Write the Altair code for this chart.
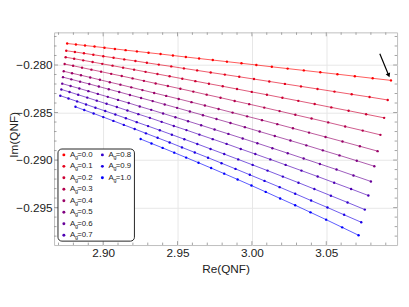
import altair as alt
import pandas as pd

# ---------------- data ----------------
A_values = [0.0, 0.1, 0.2, 0.3, 0.4, 0.5, 0.6, 0.7, 0.8, 0.9, 1.0]
colors = ["#ff0000", "#e6001a", "#cc0033", "#b3004d", "#990066", "#800080",
          "#660099", "#4d00b3", "#3300cc", "#1a00e6", "#0000ff"]

re_a00 = [2.8758, 2.8817, 2.8878, 2.8942, 2.9009, 2.9079, 2.9151, 2.9227, 2.9305, 2.9386, 2.9469, 2.9556, 2.9645,
          2.9737, 2.9832, 2.9930, 3.0030, 3.0134, 3.0240, 3.0349, 3.0460, 3.0575, 3.0692, 3.0812, 3.0935]
im_a00 = [-0.27774, -0.27784, -0.27795, -0.27806, -0.27818, -0.27831, -0.27844, -0.27857, -0.27871, -0.27885,
          -0.27900, -0.27916, -0.27932, -0.27948, -0.27965, -0.27982, -0.28000, -0.28019, -0.28038, -0.28057,
          -0.28077, -0.28097, -0.28118, -0.28140, -0.28162]

re_a01 = [2.8752, 2.8810, 2.8871, 2.8934, 2.9001, 2.9070, 2.9142, 2.9217, 2.9294, 2.9374, 2.9458, 2.9543, 2.9632,
          2.9723, 2.9818, 2.9915, 3.0014, 3.0117, 3.0222, 3.0330, 3.0441, 3.0555, 3.0671, 3.0791, 3.0913]
im_a01 = [-0.27850, -0.27863, -0.27877, -0.27892, -0.27908, -0.27924, -0.27941, -0.27958, -0.27977, -0.27996,
          -0.28015, -0.28036, -0.28057, -0.28079, -0.28101, -0.28124, -0.28148, -0.28173, -0.28199, -0.28225,
          -0.28252, -0.28280, -0.28308, -0.28337, -0.28368]

re_a02 = [2.8748, 2.8805, 2.8866, 2.8929, 2.8994, 2.9063, 2.9134, 2.9208, 2.9285, 2.9365, 2.9447, 2.9532, 2.9620,
          2.9711, 2.9804, 2.9900, 2.9999, 3.0101, 3.0205, 3.0312, 3.0422, 3.0534, 3.0650, 3.0768, 3.0889]
im_a02 = [-0.27918, -0.27934, -0.27951, -0.27969, -0.27988, -0.28007, -0.28028, -0.28049, -0.28072, -0.28095,
          -0.28119, -0.28144, -0.28170, -0.28197, -0.28224, -0.28253, -0.28283, -0.28313, -0.28345, -0.28377,
          -0.28411, -0.28446, -0.28481, -0.28518, -0.28556]

re_a03 = [2.8741, 2.8798, 2.8858, 2.8921, 2.8986, 2.9054, 2.9125, 2.9198, 2.9274, 2.9353, 2.9435, 2.9519, 2.9606,
          2.9696, 2.9789, 2.9884, 2.9982, 3.0083, 3.0186, 3.0292, 3.0401, 3.0513, 3.0627, 3.0745, 3.0864]
im_a03 = [-0.27990, -0.28008, -0.28028, -0.28049, -0.28070, -0.28093, -0.28116, -0.28141, -0.28167, -0.28194,
          -0.28221, -0.28250, -0.28280, -0.28312, -0.28344, -0.28378, -0.28412, -0.28448, -0.28485, -0.28524,
          -0.28563, -0.28604, -0.28647, -0.28690, -0.28735]

re_a04 = [2.8735, 2.8791, 2.8851, 2.8913, 2.8978, 2.9045, 2.9116, 2.9189, 2.9264, 2.9343, 2.9424, 2.9508, 2.9594,
          2.9684, 2.9776, 2.9870, 2.9968, 3.0068, 3.0171, 3.0276, 3.0384, 3.0495, 3.0609, 3.0726, 3.0845]
im_a04 = [-0.28066, -0.28087, -0.28108, -0.28131, -0.28156, -0.28181, -0.28207, -0.28235, -0.28264, -0.28294,
          -0.28325, -0.28357, -0.28391, -0.28426, -0.28463, -0.28501, -0.28540, -0.28580, -0.28622, -0.28666,
          -0.28711, -0.28757, -0.28805, -0.28855, -0.28906]

re_a05 = [2.8730, 2.8786, 2.8845, 2.8907, 2.8971, 2.9038, 2.9108, 2.9180, 2.9255, 2.9333, 2.9414, 2.9497, 2.9583,
          2.9671, 2.9762, 2.9856, 2.9953, 3.0052, 3.0154, 3.0259, 3.0366, 3.0477, 3.0589, 3.0705, 3.0823]
im_a05 = [-0.28128, -0.28151, -0.28175, -0.28200, -0.28227, -0.28255, -0.28284, -0.28315, -0.28347, -0.28380,
          -0.28415, -0.28451, -0.28489, -0.28528, -0.28568, -0.28610, -0.28654, -0.28700, -0.28747, -0.28795,
          -0.28845, -0.28898, -0.28951, -0.29007, -0.29065]

re_a06 = [2.8725, 2.8781, 2.8840, 2.8901, 2.8964, 2.9031, 2.9100, 2.9172, 2.9246, 2.9323, 2.9403, 2.9486, 2.9571,
          2.9659, 2.9749, 2.9842, 2.9938, 3.0037, 3.0138, 3.0241, 3.0348, 3.0457, 3.0569, 3.0683, 3.0800]
im_a06 = [-0.28196, -0.28221, -0.28247, -0.28275, -0.28304, -0.28335, -0.28367, -0.28400, -0.28436, -0.28472,
          -0.28510, -0.28550, -0.28591, -0.28634, -0.28679, -0.28725, -0.28773, -0.28823, -0.28875, -0.28928,
          -0.28984, -0.29041, -0.29100, -0.29162, -0.29225]

re_a07 = [2.8719, 2.8774, 2.8832, 2.8893, 2.8957, 2.9023, 2.9092, 2.9163, 2.9237, 2.9314, 2.9393, 2.9475, 2.9560,
          2.9647, 2.9737, 2.9830, 2.9925, 3.0023, 3.0124, 3.0227, 3.0333, 3.0442, 3.0553, 3.0667, 3.0783]
im_a07 = [-0.28257, -0.28284, -0.28313, -0.28343, -0.28375, -0.28408, -0.28442, -0.28479, -0.28517, -0.28556,
          -0.28598, -0.28641, -0.28685, -0.28732, -0.28780, -0.28830, -0.28883, -0.28937, -0.28993, -0.29051,
          -0.29111, -0.29173, -0.29238, -0.29304, -0.29373]

re_a08 = [2.8712, 2.8767, 2.8825, 2.8885, 2.8948, 2.9014, 2.9082, 2.9153, 2.9226, 2.9302, 2.9381, 2.9462, 2.9546,
          2.9633, 2.9722, 2.9814, 2.9908, 3.0005, 3.0105, 3.0208, 3.0313, 3.0420, 3.0531, 3.0643, 3.0759]
im_a08 = [-0.28323, -0.28352, -0.28383, -0.28415, -0.28449, -0.28484, -0.28521, -0.28560, -0.28601, -0.28643,
          -0.28687, -0.28733, -0.28781, -0.28831, -0.28883, -0.28937, -0.28993, -0.29051, -0.29111, -0.29174,
          -0.29238, -0.29305, -0.29375, -0.29446, -0.29521]

re_a09 = [2.8814, 2.8873, 2.8936, 2.9001, 2.9069, 2.9139, 2.9212, 2.9288, 2.9366, 2.9447, 2.9530, 2.9616, 2.9705,
          2.9796, 2.9890, 2.9986, 3.0085, 3.0187, 3.0291, 3.0398, 3.0508, 3.0620, 3.0735]
im_a09 = [-0.28440, -0.28474, -0.28510, -0.28548, -0.28588, -0.28630, -0.28673, -0.28719, -0.28766, -0.28815,
          -0.28867, -0.28920, -0.28975, -0.29033, -0.29093, -0.29155, -0.29219, -0.29285, -0.29354, -0.29426,
          -0.29499, -0.29576, -0.29654]

re_a10 = [2.9252, 2.9325, 2.9400, 2.9478, 2.9558, 2.9641, 2.9726, 2.9814, 2.9904, 2.9997, 3.0093, 3.0190, 3.0291,
          3.0394, 3.0499, 3.0607, 3.0717]
im_a10 = [-0.28779, -0.28825, -0.28872, -0.28922, -0.28974, -0.29028, -0.29084, -0.29143, -0.29204, -0.29268,
          -0.29335, -0.29404, -0.29475, -0.29550, -0.29627, -0.29708, -0.29791]

re_series = [re_a00, re_a01, re_a02, re_a03, re_a04, re_a05, re_a06, re_a07, re_a08, re_a09, re_a10]
im_series = [im_a00, im_a01, im_a02, im_a03, im_a04, im_a05, im_a06, im_a07, im_a08, im_a09, im_a10]

x_major = [2.90, 2.95, 3.00, 3.05]
y_major = [-0.280, -0.285, -0.290, -0.295]
x_minor = [2.87, 2.88, 2.89, 2.91, 2.92, 2.93, 2.94, 2.96, 2.97, 2.98, 2.99,
           3.01, 3.02, 3.03, 3.04, 3.06, 3.07, 3.08, 3.09]
y_minor = [-0.277, -0.278, -0.279, -0.281, -0.282, -0.283, -0.284, -0.286, -0.287, -0.288, -0.289,
           -0.291, -0.292, -0.293, -0.294, -0.296, -0.297, -0.298]

# arrow annotation (points at the end of the A=0.0 curve)
arrow_re = [3.0860, 3.0918]
arrow_im = [-0.27881, -0.28102]

# ---------------- layout ----------------
X_DOM = [2.867, 3.0976]
Y_DOM = [-0.29894, -0.27657]
W, H = 350, 217
FONT = "Liberation Sans"
TXT = "#222222"

labels = [f"{a:.1f}" for a in A_values]

rows = []
for lab, re_vals, im_vals in zip(labels, re_series, im_series):
    for i, (xv, yv) in enumerate(zip(re_vals, im_vals)):
        rows.append({"A": lab, "idx": i, "re": xv, "im": yv})
df = pd.DataFrame(rows)

xscale = alt.Scale(domain=X_DOM, nice=False, zero=False)
yscale = alt.Scale(domain=Y_DOM, nice=False, zero=False)
xaxis = alt.Axis(values=x_major, format=".2f", grid=True, gridColor="#e6e6e6", ticks=False,
                 domain=False, labelFont=FONT, labelFontSize=12, labelColor=TXT, labelPadding=3,
                 titleFont=FONT, titleFontSize=12, titleFontWeight="normal", titleColor=TXT,
                 titlePadding=5, title="Re(QNF)")
yaxis = alt.Axis(values=y_major, format=".3f", grid=True, gridColor="#e6e6e6", ticks=False,
                 domain=False, labelFont=FONT, labelFontSize=12, labelColor=TXT, labelPadding=2,
                 titleFont=FONT, titleFontSize=12, titleFontWeight="normal", titleColor=TXT,
                 titleX=-41, titleY=104, titleAngle=270, titleBaseline="middle", titleAlign="center",
                 title="Im(QNF)")


def X(field):
    return alt.X(f"{field}:Q", scale=xscale, axis=xaxis)


def Y(field):
    return alt.Y(f"{field}:Q", scale=yscale, axis=yaxis)


cscale = alt.Scale(domain=labels, range=colors)

lines = alt.Chart(df).mark_line(strokeWidth=1, opacity=0.65).encode(
    x=X("re"), y=Y("im"),
    color=alt.Color("A:N", scale=cscale, legend=None),
    order=alt.Order("idx:Q"),
)
points = alt.Chart(df).mark_circle(size=6, opacity=1).encode(
    x=X("re"), y=Y("im"),
    color=alt.Color("A:N", scale=cscale, legend=None),
)

# frame ticks (inside, Mathematica style)
tick_col = "#8c8c8c"
xmaj = pd.DataFrame({"t": x_major})
xmin = pd.DataFrame({"t": x_minor})
ymaj = pd.DataFrame({"t": y_major})
ymin = pd.DataFrame({"t": y_minor})
tick_layers = []
for d, ln in [(xmaj, 4), (xmin, 2.5)]:
    tick_layers.append(alt.Chart(d).mark_rule(color=tick_col, strokeWidth=0.8).encode(
        x=X("t"), y=alt.value(H), y2=alt.value(H - ln)))
    tick_layers.append(alt.Chart(d).mark_rule(color=tick_col, strokeWidth=0.8).encode(
        x=X("t"), y=alt.value(0), y2=alt.value(ln)))
for d, ln in [(ymaj, 4), (ymin, 2.5)]:
    tick_layers.append(alt.Chart(d).mark_rule(color=tick_col, strokeWidth=0.8).encode(
        y=Y("t"), x=alt.value(0), x2=alt.value(ln)))
    tick_layers.append(alt.Chart(d).mark_rule(color=tick_col, strokeWidth=0.8).encode(
        y=Y("t"), x=alt.value(W), x2=alt.value(W - ln)))

# arrow
arr = pd.DataFrame({"re": arrow_re, "im": arrow_im, "o": [0, 1]})
arrow_line = alt.Chart(arr).mark_line(color="black", strokeWidth=1.2).encode(
    x=X("re"), y=Y("im"), order="o:Q")
arrow_head = alt.Chart(arr.iloc[[1]]).mark_point(
    shape="triangle", filled=True, size=24, angle=157, color="black", opacity=1
).encode(x=X("re"), y=Y("im"))


# ---------------- custom legend (two columns, column-major) ----------------
def px2x(px):
    return X_DOM[0] + px / W * (X_DOM[1] - X_DOM[0])


def py2y(py):
    return Y_DOM[1] - py / H * (Y_DOM[1] - Y_DOM[0])


leg_rows = []
for i, lab in enumerate(labels):
    col, row = i // 8, i % 8
    px = 10 + 39.3 * col
    py = 125 + 11.7 * row
    leg_rows.append({"A": lab, "mx": px2x(px), "my": py2y(py),
                     "ax": px2x(px + 6.3), "sx": px2x(px + 11.4), "ex": px2x(px + 13.6),
                     "eq": "=" + lab})
leg = pd.DataFrame(leg_rows)

box = alt.Chart(pd.DataFrame({"k": [0]})).mark_rect(
    fill="white", stroke="#222222", strokeWidth=1, cornerRadius=4
).encode(x=alt.value(4), x2=alt.value(82), y=alt.value(119), y2=alt.value(213))
leg_pts = alt.Chart(leg).mark_circle(size=9, opacity=1).encode(
    x=X("mx"), y=Y("my"), color=alt.Color("A:N", scale=cscale, legend=None))
leg_A = alt.Chart(leg).mark_text(align="left", baseline="middle", font=FONT, fontSize=8,
                                 color=TXT, text="A").encode(x=X("ax"), y=Y("my"))
leg_sub = alt.Chart(leg).mark_text(align="left", baseline="middle", font=FONT, fontSize=5.5,
                                   color=TXT, text="g", dy=2).encode(x=X("sx"), y=Y("my"))
leg_eq = alt.Chart(leg).mark_text(align="left", baseline="middle", font=FONT, fontSize=8,
                                  color=TXT).encode(x=X("ex"), y=Y("my"), text="eq:N")

chart = alt.layer(
    *tick_layers, lines, points, arrow_line, arrow_head, box, leg_pts, leg_A, leg_sub, leg_eq
).properties(
    width=W, height=H,
    autosize=alt.AutoSizeParams(type="none"),
    padding={"left": 47, "top": 22, "right": 4, "bottom": 44},
    background="white",
).configure_view(stroke="#bdbdbd", strokeWidth=1)

chart.save("out.html", embed_options={"renderer": "svg", "actions": False})
